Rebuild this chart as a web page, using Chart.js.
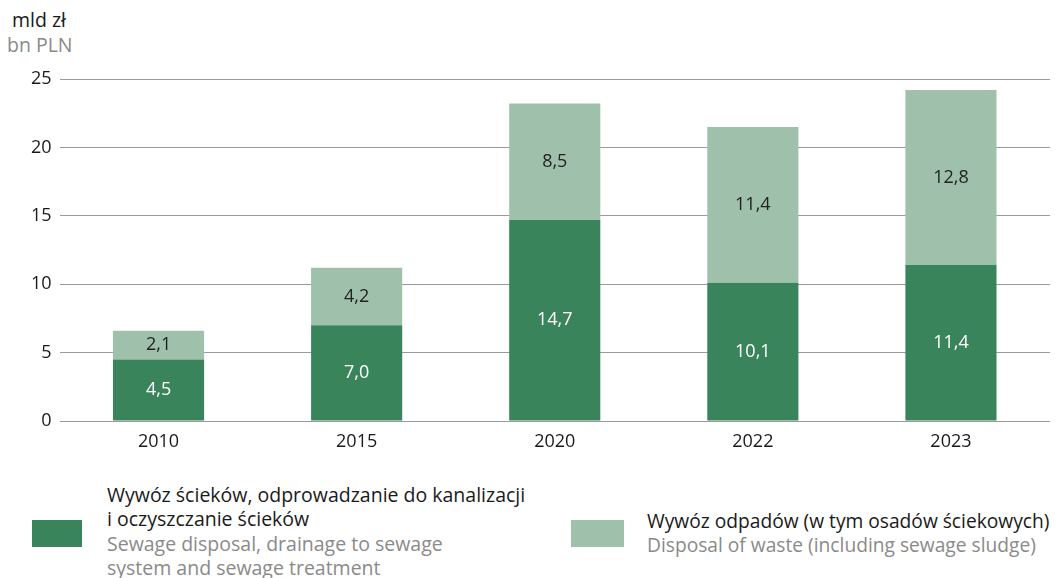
<!DOCTYPE html>
<html><head><meta charset="utf-8">
<script src="https://cdn.jsdelivr.net/npm/chart.js@4/dist/chart.umd.min.js"></script>
<style>
html,body{margin:0;padding:0;background:#fff;}
body{width:1056px;height:578px;position:relative;overflow:hidden;font-family:"Open Sans",sans-serif;}
#wrap{position:absolute;left:0;top:0;width:1056px;height:470px;}
.unit{position:absolute;font-size:19.5px;line-height:22px;white-space:nowrap;}
.lg{position:absolute;font-size:19.5px;line-height:24.3px;white-space:nowrap;}
.pl{color:#1a1a1a;}
.en{color:#8a8a8a;}
.sw{position:absolute;}
</style></head><body>
<div class="unit pl" style="top:9px;left:12px;">mld zł</div>
<div class="unit en" style="top:34px;left:7px;">bn PLN</div>
<div id="wrap"><canvas id="c" width="1056" height="470"></canvas></div>
<div class="sw" style="left:32px;top:520px;width:50px;height:27px;background:#3a845c"></div>
<div class="lg" style="left:107px;top:483px;"><div class="pl">Wywóz ścieków, odprowadzanie do kanalizacji</div><div class="pl">i oczyszczanie ścieków</div><div class="en">Sewage disposal, drainage to sewage</div><div class="en">system and sewage treatment</div></div>
<div class="sw" style="left:571px;top:520px;width:53px;height:27px;background:#9fc1ab"></div>
<div class="lg" style="left:647px;top:509px;font-size:19.2px;"><div class="pl">Wywóz odpadów (w tym osadów ściekowych)</div><div class="en">Disposal of waste (including sewage sludge)</div></div>
<script>
const categories = ["2010","2015","2020","2022","2023"];
const sewage = [4.5, 7.0, 14.7, 10.1, 11.4];
const waste = [2.1, 4.2, 8.5, 11.4, 12.8];
const yTicks = [0,5,10,15,20,25];

const labelPlugin = {
  id:'segLabels',
  afterDatasetsDraw(chart){
    const ctx = chart.ctx;
    chart.data.datasets.forEach((ds, di)=>{
      const meta = chart.getDatasetMeta(di);
      meta.data.forEach((bar, i)=>{
        const v = ds.data[i];
        const y = (bar.y + bar.base)/2;
        ctx.save();
        ctx.font = '18px "Open Sans", sans-serif';
        ctx.fillStyle = di===0 ? '#ffffff' : '#222222';
        ctx.textAlign='center'; ctx.textBaseline='middle';
        ctx.fillText(v.toFixed(1).replace('.',','), bar.x, y);
        ctx.restore();
      });
    });
  }
};

new Chart(document.getElementById('c'), {
  type:'bar',
  data:{labels:categories, datasets:[
    {label:'Wywóz ścieków', data:sewage, backgroundColor:'#3a845c', categoryPercentage:1, barPercentage:0.46},
    {label:'Wywóz odpadów', data:waste, backgroundColor:'#9fc1ab', categoryPercentage:1, barPercentage:0.46}
  ]},
  options:{
    responsive:false, animation:false,
    layout:{padding:{top:79,right:6,left:0,bottom:0}},
    plugins:{legend:{display:false}, tooltip:{enabled:false}},
    scales:{
      x:{stacked:true, grid:{display:false}, border:{display:false},
         ticks:{color:'#1a1a1a', font:{family:'"Open Sans", sans-serif', size:18}, padding:2},
         afterFit(s){s.height=49;}},
      y:{stacked:true, min:0, max:25, afterBuildTicks(s){s.ticks=yTicks.map(v=>({value:v}));},
         grid:{color:'#9a9a9a', lineWidth:1, drawTicks:false}, border:{display:false},
         ticks:{color:'#1a1a1a', font:{family:'"Open Sans", sans-serif', size:18}, padding:8},
         afterFit(s){s.width=59.5;}}
    }
  },
  plugins:[labelPlugin]
});
</script>
</body></html>
